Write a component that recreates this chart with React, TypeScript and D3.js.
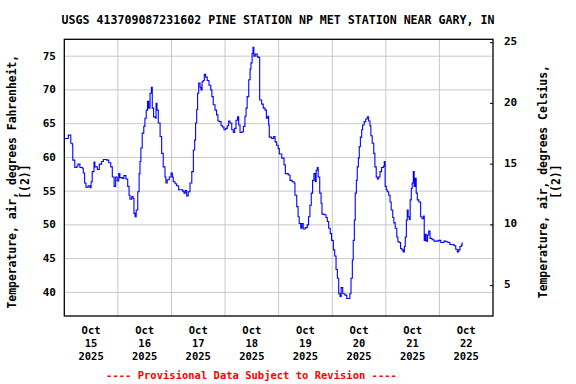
import React from 'react';
import * as d3 from 'd3';

// hours since Oct 15 2025 00:00
const hours = [
	0.3, 1.8, 2.9, 3.6, 3.8, 4.7, 5.6, 6.1, 7.0, 8.1, 8.5, 9.1, 9.7, 10.7, 11.5, 12.0, 12.5, 13.3, 13.7, 14.8,
	15.7, 16.7, 17.5, 19.0, 19.9, 20.8, 21.5, 22.3, 23.0, 23.7, 24.4, 24.9, 26.0, 26.7, 27.6, 28.4, 29.0, 29.4, 30.2, 30.8,
	31.2, 31.7, 32.2, 32.9, 33.5, 33.9, 34.3, 34.9, 35.6, 36.1, 36.7, 37.3, 37.8, 38.4, 39.0, 39.4, 40.0, 40.8, 41.1, 41.5,
	42.1, 42.9, 43.6, 44.3, 45.1, 45.5, 46.1, 47.0, 47.8, 48.4, 48.8, 49.6, 50.3, 51.2, 52.1, 53.0, 53.6, 54.2, 54.8, 55.5,
	56.3, 57.1, 57.8, 58.4, 58.8, 59.3, 59.7, 60.2, 60.8, 61.2, 61.7, 62.2, 62.7, 63.3, 64.0, 64.8, 65.6, 66.1, 66.7, 67.5,
	68.2, 68.8, 69.4, 70.2, 70.9, 71.5, 72.3, 73.0, 73.6, 74.2, 75.0, 75.7, 76.3, 76.9, 77.6, 78.1, 78.7, 79.6, 80.2, 80.9,
	81.4, 81.9, 82.6, 83.2, 83.6, 84.1, 84.5, 84.9, 85.5, 86.4, 87.1, 87.5, 88.4, 89.1, 89.9, 90.5, 91.1, 91.5, 91.8, 92.9,
	93.8, 94.4, 95.1, 95.8, 96.3, 97.4, 98.4, 99.0, 100.3, 101.1, 102.0, 102.9, 103.3, 104.1, 104.7, 105.2, 105.9, 106.4, 107.0, 107.9,
	108.8, 109.4, 110.0, 110.6, 111.2, 111.8, 112.4, 112.8, 113.3, 113.7, 114.4, 115.0, 115.4, 116.3, 117.2, 117.8, 118.4, 119.1, 119.7, 120.5,
	121.1, 121.7, 122.3, 122.9, 123.5, 124.0, 124.7, 125.7, 126.5, 127.5, 127.9, 128.4, 129.0, 129.4, 129.9, 130.3, 130.8, 131.2, 131.7, 132.1,
	132.6, 133.2, 133.6, 134.3, 135.0, 135.7, 136.3, 136.9, 137.3, 137.9, 138.6, 139.1, 139.7, 140.2, 140.8, 141.4, 142.1, 142.9, 143.3, 143.7,
	144.2, 144.6, 145.3, 145.9, 146.4, 147.1, 147.6, 148.2, 148.9, 149.4, 150.0, 150.6, 151.2, 151.8, 152.3, 152.7, 153.2, 153.6, 154.0, 154.5,
	154.9, 155.4, 155.8, 156.3, 156.7, 157.2, 157.6, 158.1, 158.8, 159.6, 160.2, 160.9, 161.2, 161.7, 162.1, 162.7, 163.2, 163.8, 164.7, 165.6,
	166.8, 167.5, 168.6, 169.5, 170.0, 170.9, 171.8, 172.7, 173.6, 174.5, 175.3, 176.0, 176.6, 177.2, 177.8, 178.2
];

// air temperature, degrees F
const tempF = [
	62.8, 63.3, 62.1, 61.8, 59.6, 58.5, 58.7, 59.0, 58.5, 58.4, 57.7, 56.2, 55.6, 55.8, 55.5, 56.4, 57.9, 59.3, 58.6, 58.2,
	59.0, 59.4, 59.7, 59.6, 59.2, 58.6, 57.1, 55.7, 57.1, 56.5, 57.6, 57.0, 56.9, 57.3, 56.8, 55.7, 54.4, 53.8, 54.2, 53.9,
	51.7, 51.2, 52.2, 54.9, 57.6, 59.4, 61.4, 63.6, 64.6, 65.8, 67.0, 68.3, 67.3, 69.5, 70.4, 67.3, 66.0, 65.8, 68.0, 67.0,
	65.1, 63.1, 60.6, 58.6, 57.1, 56.2, 56.7, 57.1, 57.7, 57.1, 56.4, 56.1, 55.8, 55.2, 55.2, 55.0, 54.7, 55.1, 54.3, 54.9,
	56.2, 57.9, 61.1, 62.6, 65.1, 67.1, 69.5, 71.0, 70.4, 70.0, 71.2, 71.4, 72.3, 71.9, 71.4, 70.7, 70.0, 69.0, 67.8, 67.0,
	66.3, 65.4, 65.3, 64.7, 64.5, 64.1, 64.3, 64.7, 65.4, 65.1, 64.1, 63.7, 64.3, 65.5, 66.0, 64.8, 63.7, 63.8, 64.6, 66.1,
	67.3, 69.0, 71.5, 73.1, 74.0, 75.4, 76.3, 75.0, 75.3, 74.9, 74.8, 68.5, 67.9, 67.3, 67.0, 65.8, 66.1, 64.8, 63.0, 62.8,
	63.1, 62.3, 61.8, 61.3, 60.5, 59.9, 58.9, 57.6, 57.4, 56.6, 56.4, 56.2, 54.4, 52.7, 51.2, 50.2, 49.5, 50.2, 49.4, 49.6,
	50.0, 51.2, 52.9, 54.7, 56.6, 57.6, 56.4, 58.1, 58.5, 57.1, 54.7, 53.2, 51.6, 51.5, 51.1, 50.5, 49.5, 48.7, 47.7, 46.3,
	45.4, 43.4, 42.1, 39.8, 39.4, 40.7, 39.8, 39.6, 39.1, 39.1, 39.8, 42.1, 44.8, 47.7, 50.7, 54.7, 56.6, 58.6, 59.9, 61.6,
	63.0, 64.1, 64.8, 65.3, 65.7, 66.0, 65.4, 64.7, 63.2, 62.1, 60.6, 58.6, 57.1, 56.8, 57.1, 57.9, 58.5, 58.7, 59.4, 55.7,
	55.2, 54.9, 54.4, 53.4, 52.2, 51.1, 50.3, 49.5, 48.2, 47.5, 47.4, 46.5, 46.3, 46.0, 46.8, 48.2, 50.7, 52.2, 51.2, 50.8,
	53.7, 55.4, 56.2, 57.9, 55.7, 56.9, 54.7, 53.7, 53.4, 51.2, 50.9, 51.3, 47.7, 48.6, 47.6, 48.5, 49.1, 48.0, 47.8, 47.6,
	47.6, 47.7, 47.4, 47.4, 47.6, 47.5, 47.4, 47.1, 47.1, 46.9, 46.4, 46.0, 46.3, 46.8, 47.0, 47.4
];

const fTicks = [40, 45, 50, 55, 60, 65, 70, 75];
const cTicks = [5, 10, 15, 20, 25];

const title = 'USGS 413709087231602 PINE STATION NP MET STATION NEAR GARY, IN';
const leftLabel = ['Temperature, air, degrees Fahrenheit,', '[(2)]'];
const rightLabel = ['Temperature, air, degrees Celsius,', '[(2)]'];
const footer = '---- Provisional Data Subject to Revision ----';

const W = 576, H = 384;
const left = 64.3, right = 493, top = 39.3, bottom = 316;
const font = '"DejaVu Sans Mono", "Liberation Mono", monospace';

const start = new Date(2025, 9, 15);
const end = new Date(2025, 9, 23);
const fDomain = [36.5, 77.5];

export default function App() {
	const x = d3.scaleTime().domain([start, end]).range([left, right]);
	const y = d3.scaleLinear().domain(fDomain).range([bottom, top]);
	const yC = d3.scaleLinear()
	             .domain(fDomain.map(f => (f - 32) * 5 / 9))
	             .range([bottom, top]);

	const pts = hours.map((h, i) => [start.getTime() + h * 3600e3, tempF[i]] as [number, number]);
	const line = d3.line<[number, number]>()
	               .x(d => x(new Date(d[0])))
	               .y(d => y(d[1]))
	               .curve(d3.curveStepAfter);

	const days = d3.timeDay.range(start, end);
	const midY = (top + bottom) / 2;

	return (
		<svg width={W} height={H} style={{ position: 'absolute', left: 0, top: 0, background: '#fff' }}
		     fontFamily={font} fontWeight="bold">
			<rect x={0} y={0} width={W} height={H} fill="#fff" />
			<text x={278} y={20} fontSize={11.6} textAnchor="middle" dominantBaseline="central">{title}</text>

			{/* grid */}
			{fTicks.map(t =>
				<line key={'gf' + t} x1={left} x2={right} y1={y(t)} y2={y(t)} stroke="#c8c8c8" strokeWidth={1} />)}
			{days.slice(1).map(d =>
				<line key={'gd' + d.getTime()} x1={x(d)} x2={x(d)} y1={top} y2={bottom} stroke="#c8c8c8" strokeWidth={1} />)}

			<path d={line(pts) || ''} fill="none" stroke="#0000ff" strokeWidth={1.1} />

			<rect x={left} y={top} width={right - left} height={bottom - top} fill="none" stroke="#000" strokeWidth={1.3} />

			{/* left axis */}
			{fTicks.map(t =>
				<text key={'lf' + t} x={56} y={y(t)} fontSize={11} textAnchor="end" dominantBaseline="central">{t}</text>)}

			{/* right axis */}
			{cTicks.map(t =>
				<g key={'rc' + t}>
					<line x1={right - 3} x2={right} y1={yC(t)} y2={yC(t)} stroke="#000" />
					<text x={504} y={yC(t) - 1} fontSize={11} dominantBaseline="central">{t}</text>
				</g>)}

			{/* x axis */}
			{days.map(d => {
				const cx = x(d3.timeHour.offset(d, 12));
				return (
					<text key={'x' + d.getTime()} x={cx} fontSize={10.5} textAnchor="middle" dominantBaseline="central">
						<tspan x={cx} y={330}>{d3.timeFormat('%b')(d)}</tspan>
						<tspan x={cx} y={343}>{d3.timeFormat('%-d')(d)}</tspan>
						<tspan x={cx} y={356}>{d3.timeFormat('%Y')(d)}</tspan>
					</text>
				);
			})}

			{/* axis titles */}
			<g transform={`translate(12,${midY + 4}) rotate(-90)`}>
				<text fontSize={11.4} textAnchor="middle" dominantBaseline="central">{leftLabel[0]}</text>
				<text y={12.5} fontSize={11.4} textAnchor="middle" dominantBaseline="central">{leftLabel[1]}</text>
			</g>
			<g transform={`translate(543,${midY + 4}) rotate(-90)`}>
				<text fontSize={11.4} textAnchor="middle" dominantBaseline="central">{rightLabel[0]}</text>
				<text y={13} fontSize={11.4} textAnchor="middle" dominantBaseline="central">{rightLabel[1]}</text>
			</g>

			<text x={251.5} y={375} fontSize={10.5} fill="#ff0000" textAnchor="middle" dominantBaseline="central">{footer}</text>
		</svg>
	);
}
